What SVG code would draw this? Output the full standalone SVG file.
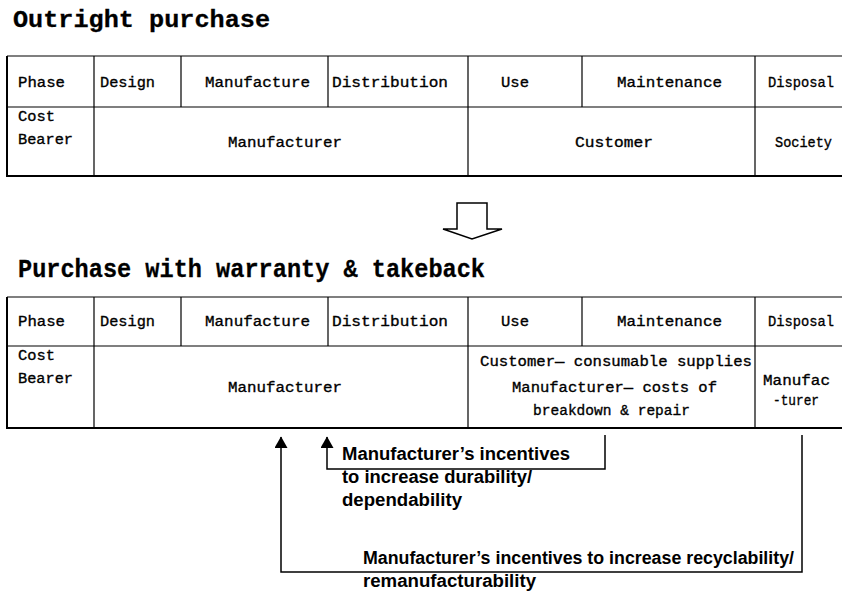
<svg xmlns="http://www.w3.org/2000/svg" width="842" height="594" viewBox="0 0 842 594">
<style>
.ttl{font-family:"Liberation Mono","Courier New",monospace;font-weight:bold;fill:#000;stroke:#000;stroke-width:0.3}
.cell{font-family:"Liberation Mono","Courier New",monospace;font-size:15.5px;fill:#000;stroke:#000;stroke-width:0.35}
.note{font-family:"Liberation Sans",Arial,sans-serif;font-weight:bold;font-size:18px;fill:#000}
.grid{stroke:#000;stroke-width:1.2;fill:none}
.frame{stroke:#000;stroke-width:2;fill:none}
.conn{stroke:#000;stroke-width:1.5;fill:none}
</style>
<defs>
<marker id="ah" markerUnits="userSpaceOnUse" markerWidth="12" markerHeight="14" refX="11" refY="6.5" orient="auto" viewBox="0 0 12 14">
<path d="M0,0 L11.5,6.5 L0,13 Z" fill="#000"/>
</marker>
</defs>
<rect width="842" height="594" fill="#fff"/>

<g id="title1"><text class="ttl" x="13" y="27" font-size="24" textLength="257" lengthAdjust="spacingAndGlyphs">Outright purchase</text></g>

<g id="table1">
<path class="grid" d="M7,56 H842 M7,107 H842 M94,56 V176 M181,56 V107 M328,56 V107 M468,56 V176 M582,56 V107 M755,56 V176"/>
<path class="frame" d="M842,176 H7 V56"/>
<g id="t1-phase"><text class="cell" x="18" y="87" textLength="47" lengthAdjust="spacingAndGlyphs">Phase</text></g>
<g id="t1-design"><text class="cell" x="100" y="87" textLength="55" lengthAdjust="spacingAndGlyphs">Design</text></g>
<g id="t1-manufacture"><text class="cell" x="205" y="87" textLength="105" lengthAdjust="spacingAndGlyphs">Manufacture</text></g>
<g id="t1-distribution"><text class="cell" x="332" y="87" textLength="116" lengthAdjust="spacingAndGlyphs">Distribution</text></g>
<g id="t1-use"><text class="cell" x="515" y="87" text-anchor="middle">Use</text></g>
<g id="t1-maintenance"><text class="cell" x="617" y="87" textLength="105" lengthAdjust="spacingAndGlyphs">Maintenance</text></g>
<g id="t1-disposal"><text class="cell" x="768" y="87" textLength="66" lengthAdjust="spacingAndGlyphs">Disposal</text></g>
<g id="t1-costbearer"><text class="cell" x="18" y="121" textLength="37" lengthAdjust="spacingAndGlyphs">Cost</text><text class="cell" x="18" y="144" textLength="55" lengthAdjust="spacingAndGlyphs">Bearer</text></g>
<g id="t1-manufacturer"><text class="cell" x="228" y="147" textLength="114" lengthAdjust="spacingAndGlyphs">Manufacturer</text></g>
<g id="t1-customer"><text class="cell" x="575" y="147" textLength="78" lengthAdjust="spacingAndGlyphs">Customer</text></g>
<g id="t1-society"><text class="cell" x="775" y="147" textLength="57" lengthAdjust="spacingAndGlyphs">Society</text></g>
</g>

<g id="change-arrow"><path d="M457,203 H487 V229 H502 L472,239 L443,229 H457 Z" fill="#fff" stroke="#000" stroke-width="1.5" stroke-linejoin="miter"/></g>

<g id="title2"><text class="ttl" x="18" y="277" font-size="26" textLength="467" lengthAdjust="spacingAndGlyphs">Purchase with warranty &amp; takeback</text></g>

<g id="table2">
<path class="grid" d="M7,297 H842 M7,346 H842 M94,297 V428 M181,297 V346 M328,297 V346 M468,297 V428 M582,297 V346 M755,297 V428"/>
<path class="frame" d="M842,428 H7 V297"/>
<g id="t2-phase"><text class="cell" x="18" y="326" textLength="47" lengthAdjust="spacingAndGlyphs">Phase</text></g>
<g id="t2-design"><text class="cell" x="100" y="326" textLength="55" lengthAdjust="spacingAndGlyphs">Design</text></g>
<g id="t2-manufacture"><text class="cell" x="205" y="326" textLength="105" lengthAdjust="spacingAndGlyphs">Manufacture</text></g>
<g id="t2-distribution"><text class="cell" x="332" y="326" textLength="116" lengthAdjust="spacingAndGlyphs">Distribution</text></g>
<g id="t2-use"><text class="cell" x="515" y="326" text-anchor="middle">Use</text></g>
<g id="t2-maintenance"><text class="cell" x="617" y="326" textLength="105" lengthAdjust="spacingAndGlyphs">Maintenance</text></g>
<g id="t2-disposal"><text class="cell" x="768" y="326" textLength="66" lengthAdjust="spacingAndGlyphs">Disposal</text></g>
<g id="t2-costbearer"><text class="cell" x="18" y="360" textLength="37" lengthAdjust="spacingAndGlyphs">Cost</text><text class="cell" x="18" y="383" textLength="55" lengthAdjust="spacingAndGlyphs">Bearer</text></g>
<g id="t2-manufacturer"><text class="cell" x="228" y="392" textLength="114" lengthAdjust="spacingAndGlyphs">Manufacturer</text></g>
<g id="t2-usemaint"><text class="cell" x="480" y="366" textLength="272" lengthAdjust="spacingAndGlyphs">Customer— consumable supplies</text><text class="cell" x="512" y="392" textLength="205" lengthAdjust="spacingAndGlyphs">Manufacturer— costs of</text><text class="cell" x="533" y="415" textLength="157" lengthAdjust="spacingAndGlyphs">breakdown &amp; repair</text></g>
<g id="t2-disposalbearer"><text class="cell" x="763" y="385" textLength="67" lengthAdjust="spacingAndGlyphs">Manufac</text><text class="cell" x="773" y="405" textLength="46" lengthAdjust="spacingAndGlyphs">-turer</text></g>
</g>

<g id="connectors">
<path class="conn" d="M605,435 V469 H327 V437" marker-end="url(#ah)"/>
<path class="conn" d="M802,435 V572 H281 V437" marker-end="url(#ah)"/>
</g>

<g id="note-durability">
<text class="note" x="342" y="460" textLength="228" lengthAdjust="spacingAndGlyphs">Manufacturer’s incentives</text>
<text class="note" x="342" y="483" textLength="190" lengthAdjust="spacingAndGlyphs">to increase durability/</text>
<text class="note" x="342" y="506" textLength="120" lengthAdjust="spacingAndGlyphs">dependability</text>
</g>
<g id="note-recyclability">
<text class="note" x="363" y="564" textLength="431" lengthAdjust="spacingAndGlyphs">Manufacturer’s incentives to increase recyclability/</text>
<text class="note" x="363" y="587" textLength="173" lengthAdjust="spacingAndGlyphs">remanufacturability</text>
</g>
</svg>
